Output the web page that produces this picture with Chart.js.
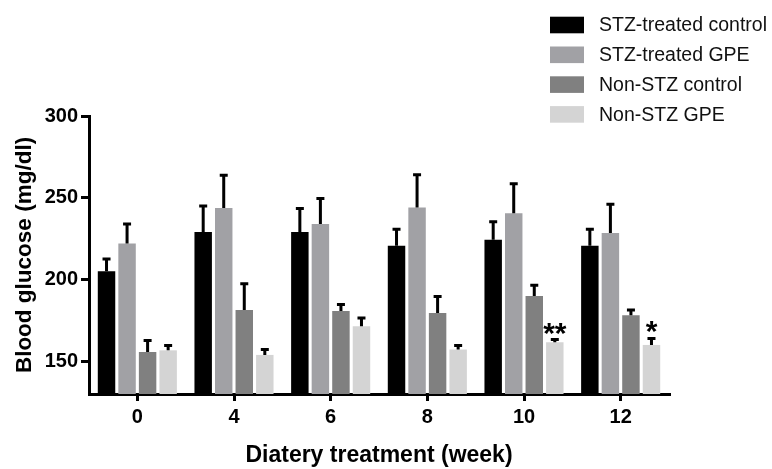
<!DOCTYPE html>
<html><head><meta charset="utf-8">
<script src="https://cdn.jsdelivr.net/npm/chart.js@4.4.0/dist/chart.umd.min.js"></script>
<style>html,body{margin:0;padding:0;background:#fff}</style>
</head><body>
<canvas id="c" width="772" height="469"></canvas>
<script>
// ---- data ----
const weeks = ['0', '4', '6', '8', '10', '12'];
const seriesLabels = ['STZ-treated control', 'STZ-treated GPE', 'Non-STZ control', 'Non-STZ GPE'];
const stzControl    = [205, 229, 229, 220.7, 224.4, 220.7];
const stzControlErr = [7.5, 16, 14.5, 10, 11, 10];
const stzGPE        = [222, 243.8, 234, 244, 240.5, 228.5];
const stzGPEErr     = [12, 20, 15.5, 20, 18, 17.5];
const nonControl    = [155.7, 181.4, 180.8, 179.6, 190, 178.1];
const nonControlErr = [7, 16, 4, 10, 6.5, 3.3];
const nonGPE        = [156.7, 153.9, 171.4, 157.2, 161.6, 160];
const nonGPEErr     = [3, 3.3, 5, 2.5, 1.7, 4];
const significance  = ['', '', '', '', '**', '*'];
const yTicks = [150, 200, 250, 300];
const yMin = 130, yMax = 300;

const FONT = '"Liberation Sans", Arial, sans-serif';
const colors = ['#000000', '#a1a1a5', '#808080', '#d4d4d4'];
const values = [stzControl, stzGPE, nonControl, nonGPE];
const errors = [stzControlErr, stzGPEErr, nonControlErr, nonGPEErr];

const datasets = values.map((v, i) => ({
  label: seriesLabels[i],
  data: v,
  errors: errors[i],
  backgroundColor: colors[i],
  borderWidth: 0,
  base: yMin,
  barPercentage: 0.85,
  categoryPercentage: 0.85
}));

const errorBars = {
  id: 'errorBars',
  afterDatasetsDraw(chart) {
    const ctx = chart.ctx, y = chart.scales.y;
    ctx.save();
    ctx.strokeStyle = '#000';
    ctx.lineWidth = 3;
    chart.data.datasets.forEach((ds, di) => {
      const meta = chart.getDatasetMeta(di);
      meta.data.forEach((el, i) => {
        const top = y.getPixelForValue(ds.data[i] + ds.errors[i]);
        ctx.beginPath();
        ctx.moveTo(el.x, el.y);
        ctx.lineTo(el.x, top);
        ctx.moveTo(el.x - 4, top);
        ctx.lineTo(el.x + 4, top);
        ctx.stroke();
      });
    });
    // significance marks over last series
    const last = chart.data.datasets.length - 1;
    const ds = chart.data.datasets[last];
    const meta = chart.getDatasetMeta(last);
    ctx.fillStyle = '#000';
    ctx.font = 'bold 30px ' + FONT;
    ctx.textAlign = 'center';
    ctx.textBaseline = 'alphabetic';
    meta.data.forEach((el, i) => {
      if (!significance[i]) return;
      const top = y.getPixelForValue(ds.data[i] + ds.errors[i]);
      ctx.fillText(significance[i], el.x, top + 3);
    });
    ctx.restore();
  }
};

const customLegend = {
  id: 'customLegend',
  afterDraw(chart) {
    const ctx = chart.ctx;
    ctx.save();
    ctx.font = '19.5px ' + FONT;
    ctx.textBaseline = 'middle';
    ctx.textAlign = 'left';
    chart.data.datasets.forEach((ds, i) => {
      const cy = 25 + i * 29.8;
      ctx.fillStyle = ds.backgroundColor;
      ctx.fillRect(550, cy - 8.3, 34, 16.6);
      ctx.fillStyle = '#111';
      ctx.fillText(ds.label, 599, cy + 1);
    });
    ctx.restore();
  }
};

new Chart(document.getElementById('c'), {
  type: 'bar',
  data: { labels: weeks, datasets },
  options: {
    responsive: false,
    devicePixelRatio: 1,
    animation: false,
    layout: { padding: { top: 116, right: 103, left: 0, bottom: 0 } },
    plugins: { legend: { display: false }, tooltip: { enabled: false } },
    scales: {
      x: {
        afterFit(s) { s.height = 75; },
        grid: { drawOnChartArea: false, offset: false, color: '#000', lineWidth: 3, tickLength: 7 },
        border: { display: true, color: '#000', width: 3 },
        ticks: { color: '#000', font: { family: FONT, size: 20, weight: 'bold' }, padding: 4 },
        title: { display: true, text: 'Diatery treatment (week)', color: '#000',
                 font: { family: FONT, size: 23, weight: 'bold' }, padding: { top: 0, bottom: 0 } }
      },
      y: {
        min: yMin, max: yMax,
        afterFit(s) { s.width = 89; },
        afterBuildTicks(s) { s.ticks = yTicks.map(v => ({ value: v })); },
        grid: { drawOnChartArea: false, color: '#000', lineWidth: 3, tickLength: 8 },
        border: { display: true, color: '#000', width: 3 },
        ticks: { color: '#000', font: { family: FONT, size: 20, weight: 'bold' }, padding: 3 },
        title: { display: true, text: 'Blood glucose (mg/dl)', color: '#000',
                 font: { family: FONT, size: 22.5, weight: 'bold' }, padding: { top: 11, bottom: 0 } }
      }
    }
  },
  plugins: [errorBars, customLegend]
});
</script>
</body></html>
